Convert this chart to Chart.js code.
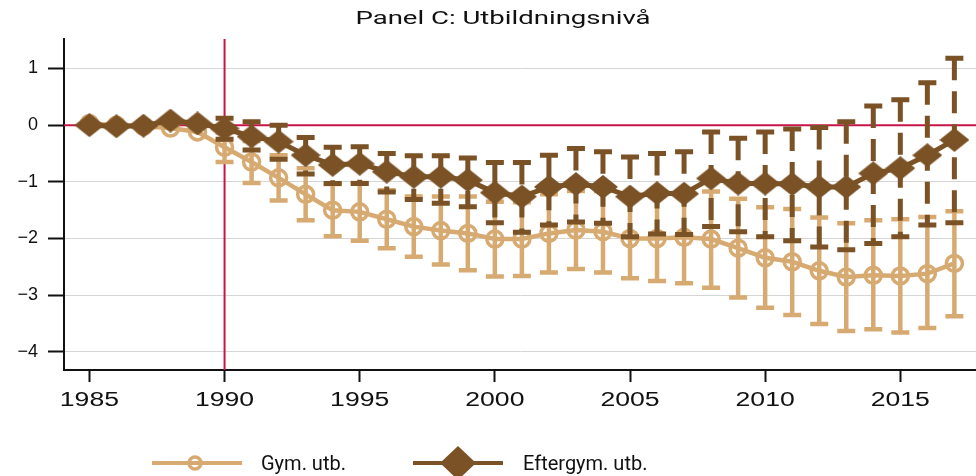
<!DOCTYPE html>
<html lang="sv">
<head>
    <meta charset="UTF-8">
    <title>Panel C: Utbildningsnivå</title>
    <script src="https://cdn.jsdelivr.net/npm/chart.js"></script>
    <style>
        html, body { margin: 0; background: #fff; overflow: hidden; }
        #wrap { position: relative; width: 976px; height: 476px; }
        #chart { display: block; }
        #title {
            position: absolute; top: 6px; left: 503px;
            transform: translateX(-50%) scaleX(1.45);
            font: 19px Roboto, sans-serif; color: #111; white-space: nowrap;
        }
        .leg-text { position: absolute; top: 450px; font: 20px Roboto, sans-serif; color: #111; line-height: 26px; white-space: nowrap; }
        #leg-marks { position: absolute; left: 140px; top: 440px; }
    </style>
</head>
<body>
<div id="wrap">
    <canvas id="chart" width="976" height="476"></canvas>
    <div id="title">Panel C: Utbildningsnivå</div>
    <svg id="leg-marks" width="380" height="46">
        <line x1="12" y1="23" x2="102" y2="23" stroke="#d7aa72" stroke-width="4"/>
        <circle cx="55" cy="23" r="6" fill="none" stroke="#d7aa72" stroke-width="3.5"/>
        <line x1="273" y1="23" x2="363" y2="23" stroke="#7a5226" stroke-width="4"/>
        <polygon points="318,6 336,23 318,40 300,23" fill="#7a5226"/>
    </svg>
    <span class="leg-text" style="left:261px">Gym. utb.</span>
    <span class="leg-text" style="left:523px">Eftergym. utb.</span>
</div>

<script>
// data
const years = [1985, 1986, 1987, 1988, 1989, 1990, 1991, 1992, 1993, 1994, 1995,
    1996, 1997, 1998, 1999, 2000, 2001, 2002, 2003, 2004, 2005, 2006,
    2007, 2008, 2009, 2010, 2011, 2012, 2013, 2014, 2015, 2016, 2017];

// Gym. utb.
const gymMean = [0.03, 0.0, -0.02, -0.05, -0.12, -0.39, -0.65, -0.93, -1.22, -1.5, -1.53,
    -1.66, -1.79, -1.86, -1.91, -2.01, -2.01, -1.91, -1.85, -1.88, -2.0, -2.0,
    -1.98, -2.01, -2.17, -2.34, -2.41, -2.57, -2.68, -2.65, -2.66, -2.62, -2.44];
const gymLow = [null, null, null, null, null, -0.65, -1.02, -1.33, -1.68, -1.96, -2.04,
    -2.17, -2.32, -2.46, -2.56, -2.67, -2.66, -2.6, -2.54, -2.6, -2.7, -2.75,
    -2.79, -2.87, -3.04, -3.22, -3.35, -3.51, -3.63, -3.6, -3.66, -3.58, -3.37];
const gymHigh = [null, null, null, null, null, -0.13, -0.28, -0.53, -0.76, -1.04, -1.02,
    -1.15, -1.26, -1.26, -1.26, -1.35, -1.36, -1.22, -1.16, -1.16, -1.3, -1.25,
    -1.17, -1.17, -1.3, -1.45, -1.48, -1.63, -1.73, -1.68, -1.66, -1.62, -1.52];

// Eftergym. utb.
const eftMean = [0.0, -0.02, -0.01, 0.08, 0.03, -0.06, -0.2, -0.29, -0.53, -0.7, -0.68,
    -0.82, -0.91, -0.91, -0.97, -1.19, -1.26, -1.09, -1.04, -1.09, -1.26, -1.2,
    -1.21, -0.94, -1.03, -1.03, -1.04, -1.09, -1.09, -0.85, -0.76, -0.53, -0.26];
const eftLow = [null, null, null, null, null, -0.25, -0.44, -0.6, -0.86, -1.03, -1.03,
    -1.18, -1.31, -1.38, -1.44, -1.72, -1.89, -1.76, -1.71, -1.73, -1.97, -1.92,
    -1.93, -1.79, -1.88, -1.97, -2.04, -2.15, -2.2, -2.09, -1.97, -1.76, -1.72];
const eftHigh = [null, null, null, null, null, 0.12, 0.06, 0.0, -0.22, -0.39, -0.38,
    -0.5, -0.54, -0.54, -0.58, -0.66, -0.66, -0.53, -0.41, -0.47, -0.56, -0.5,
    -0.47, -0.12, -0.23, -0.12, -0.07, -0.04, 0.06, 0.34, 0.45, 0.75, 1.18];

const xTicks = [1985, 1990, 1995, 2000, 2005, 2010, 2015];
const yTicks = [-4, -3, -2, -1, 0, 1];
const reformYear = 1990;

const DARK = '#7a5226';
const LIGHT = '#d7aa72';
const RED = '#c8144a';

// diamond marker, a bit wider than tall like the original
function diamond(w, h, color) {
    const c = document.createElement('canvas');
    c.width = w; c.height = h;
    const g = c.getContext('2d');
    g.fillStyle = color;
    g.beginPath();
    g.moveTo(w / 2, 0); g.lineTo(w, h / 2); g.lineTo(w / 2, h); g.lineTo(0, h / 2);
    g.closePath();
    g.fill();
    return c;
}

// confidence intervals drawn under each dataset's own line
const errorBars = {
    id: 'errorBars',
    beforeDatasetDraw(chart, args) {
        const ds = chart.data.datasets[args.index];
        const { ctx, scales: { x, y } } = chart;
        ctx.save();
        ctx.strokeStyle = ds.borderColor;
        ctx.lineWidth = ds.errWidth;
        ds.errLow.forEach((lo, i) => {
            const hi = ds.errHigh[i];
            if (lo == null || hi == null) return;
            const px = x.getPixelForValue(years[i]);
            const top = y.getPixelForValue(hi);
            const bot = y.getPixelForValue(lo);
            ctx.setLineDash(ds.errDash);
            ctx.beginPath();
            ctx.moveTo(px, top); ctx.lineTo(px, bot);
            ctx.stroke();
            ctx.setLineDash([]);
            ctx.beginPath();
            ctx.moveTo(px - 9, top); ctx.lineTo(px + 9, top);
            ctx.moveTo(px - 9, bot); ctx.lineTo(px + 9, bot);
            ctx.stroke();
        });
        ctx.restore();
    }
};

// red reference lines at 0 and at the reform year
const refLines = {
    id: 'refLines',
    beforeDatasetsDraw(chart) {
        const { ctx, chartArea: a, scales: { x, y } } = chart;
        const y0 = y.getPixelForValue(0);
        const xr = x.getPixelForValue(reformYear);
        ctx.save();
        ctx.strokeStyle = RED;
        ctx.lineWidth = 2;
        ctx.beginPath();
        ctx.moveTo(a.left, y0); ctx.lineTo(a.right, y0);
        ctx.moveTo(xr, a.top); ctx.lineTo(xr, a.bottom);
        ctx.stroke();
        ctx.restore();
    }
};

// the year labels in the original are stretched sideways
const wideLabels = {
    id: 'wideLabels',
    beforeDraw(chart) {
        const sc = chart.scales.x;
        if (sc._wide) return;
        sc.drawLabels = function () {
            const c = this.ctx;
            c.save();
            c.font = '20px "Liberation Sans", Arial, sans-serif';
            c.fillStyle = '#111';
            c.textAlign = 'center';
            c.textBaseline = 'alphabetic';
            this.ticks.forEach(t => {
                c.save();
                c.translate(this.getPixelForValue(t.value), this.top + 36);
                c.scale(1.33, 1);
                c.fillText(String(t.value), 0, 0);
                c.restore();
            });
            c.restore();
        };
        sc._wide = true;
    }
};

const ctx = document.getElementById('chart').getContext('2d');
new Chart(ctx, {
    type: 'line',
    data: {
        datasets: [
            {
                label: 'Eftergym. utb.',
                data: years.map((yr, i) => ({ x: yr, y: eftMean[i] })),
                borderColor: DARK,
                borderWidth: 5,
                pointStyle: diamond(30, 24, DARK),
                errLow: eftLow, errHigh: eftHigh, errWidth: 5, errDash: [22, 11]
            },
            {
                label: 'Gym. utb.',
                data: years.map((yr, i) => ({ x: yr, y: gymMean[i] })),
                borderColor: LIGHT,
                borderWidth: 4.5,
                pointStyle: 'circle',
                pointRadius: 8,
                pointBorderWidth: 3.5,
                pointBackgroundColor: 'rgba(0,0,0,0)',
                pointBorderColor: LIGHT,
                errLow: gymLow, errHigh: gymHigh, errWidth: 4.5, errDash: []
            }
        ]
    },
    options: {
        responsive: false,
        animation: false,
        layout: { autoPadding: false, padding: { top: 39, right: 0, bottom: 0, left: 0 } },
        plugins: { legend: { display: false }, tooltip: { enabled: false } },
        scales: {
            x: {
                type: 'linear',
                min: 1984.06,
                max: 2017.8,
                afterBuildTicks: s => { s.ticks = xTicks.map(v => ({ value: v })); },
                afterFit: s => { s.height = 106; s.paddingLeft = 0; s.paddingRight = 0; },
                grid: { drawOnChartArea: false, tickLength: 12, tickColor: '#111', tickWidth: 2 },
                border: { color: '#111', width: 2 },
                ticks: {
                    font: { family: '"Liberation Sans", Arial, sans-serif', size: 20 },
                    color: '#111', padding: 4, maxRotation: 0, autoSkip: false,
                    callback: v => String(v)
                }
            },
            y: {
                min: -4.32,
                max: 1.52,
                afterBuildTicks: s => { s.ticks = yTicks.map(v => ({ value: v })); },
                afterFit: s => { s.width = 64; s.paddingTop = 0; s.paddingBottom = 0; },
                grid: { color: '#d5d5d5', lineWidth: 1, tickLength: 16, tickColor: '#111', tickWidth: 2 },
                border: { color: '#111', width: 2 },
                ticks: {
                    font: { family: '"Liberation Sans", Arial, sans-serif', size: 18 },
                    color: '#111', padding: 10,
                    callback: v => v < 0 ? '\u2212' + Math.abs(v) : String(v)
                }
            }
        }
    },
    plugins: [errorBars, refLines, wideLabels]
});
</script>
</body>
</html>
